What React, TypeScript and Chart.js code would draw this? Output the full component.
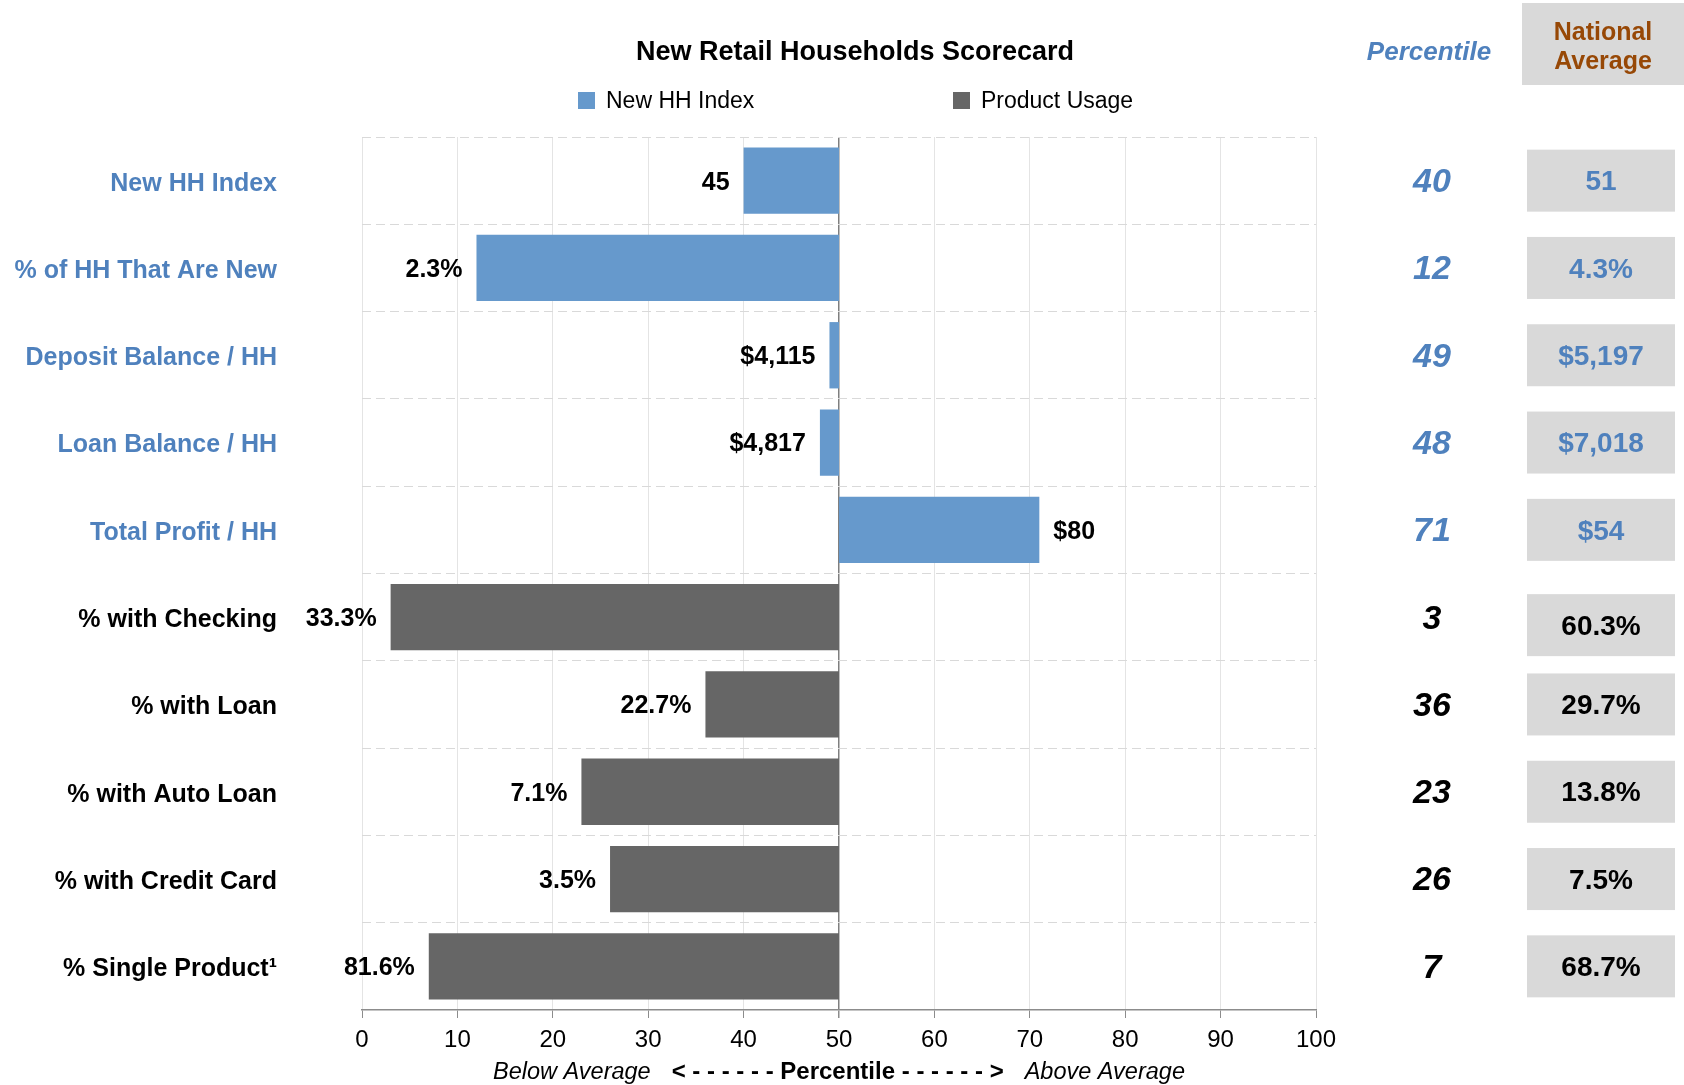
import React, { useEffect, useRef } from 'react';
import { Chart, registerables } from 'chart.js';

Chart.register(...registerables);

// ---------- data ----------
const categories = [
  'New HH Index',
  '% of HH That Are New',
  'Deposit Balance / HH',
  'Loan Balance / HH',
  'Total Profit / HH',
  '% with Checking',
  '% with Loan',
  '% with Auto Loan',
  '% with Credit Card',
  '% Single Product\u00B9',
];
const seriesNames = ['New HH Index', 'Product Usage'];
const hhPercentiles = [40, 12, 49, 48, 71];
const productPercentiles = [3, 36, 23, 26, 7];
const barValueLabels = ['45', '2.3%', '$4,115', '$4,817', '$80', '33.3%', '22.7%', '7.1%', '3.5%', '81.6%'];
const nationalAverages = ['51', '4.3%', '$5,197', '$7,018', '$54', '60.3%', '29.7%', '13.8%', '7.5%', '68.7%'];
const baseline = 50;
const xMin = 0;
const xMax = 100;
const xStep = 10;

// ---------- styles ----------
const FONT = '"Liberation Sans", Arial, Helvetica, sans-serif';
const BLUE_TEXT = '#4F81BD';
const BLUE_BAR = '#6699CC';
const GRAY_BAR = '#666666';
const BROWN = '#974806';
const BOX_GRAY = '#D9D9D9';

const allPercentiles = [...hhPercentiles, ...productPercentiles];

const decorPlugin = {
  id: 'decor',
  afterDatasetsDraw(chart: any) {
    const ctx = chart.ctx;
    const xScale = chart.scales.x;
    ctx.save();
    ctx.font = `bold 25px ${FONT}`;
    ctx.fillStyle = '#000000';
    ctx.textBaseline = 'middle';
    chart.data.datasets.forEach((ds: any, di: number) => {
      const meta = chart.getDatasetMeta(di);
      meta.data.forEach((el: any, i: number) => {
        const v = ds.data[i];
        if (v == null) return;
        const { y } = el.getProps(['y'], true);
        const endPx = xScale.getPixelForValue(v[1]);
        if (v[1] < baseline) {
          ctx.textAlign = 'right';
          ctx.fillText(barValueLabels[i], endPx - 14, y + 2);
        } else {
          ctx.textAlign = 'left';
          ctx.fillText(barValueLabels[i], endPx + 14, y + 2);
        }
      });
    });
    ctx.restore();
  },
  afterDraw(chart: any) {
    const ctx = chart.ctx;
    const yScale = chart.scales.y;
    const area = chart.chartArea;
    ctx.save();

    // title
    ctx.fillStyle = '#000000';
    ctx.font = `bold 27px ${FONT}`;
    ctx.textAlign = 'center';
    ctx.textBaseline = 'middle';
    ctx.fillText('New Retail Households Scorecard', 855, 53);

    // legend
    const legendX = [578, 953];
    ctx.font = `23px ${FONT}`;
    ctx.textAlign = 'left';
    chart.data.datasets.forEach((ds: any, di: number) => {
      ctx.fillStyle = ds.backgroundColor;
      ctx.fillRect(legendX[di], 92, 17, 17);
      ctx.fillStyle = '#000000';
      ctx.fillText(ds.label, legendX[di] + 28, 102);
    });

    // Percentile header
    ctx.fillStyle = BLUE_TEXT;
    ctx.font = `italic bold 26px ${FONT}`;
    ctx.textAlign = 'center';
    ctx.fillText('Percentile', 1429, 53);

    // National Average header
    ctx.fillStyle = BOX_GRAY;
    ctx.fillRect(1522, 3, 162, 82);
    ctx.fillStyle = BROWN;
    ctx.font = `bold 25px ${FONT}`;
    ctx.fillText('National', 1603, 33);
    ctx.fillText('Average', 1603, 62);

    // right columns
    categories.forEach((_c, i) => {
      const y = yScale.getPixelForValue(i);
      const color = i < 5 ? BLUE_TEXT : '#000000';
      ctx.fillStyle = color;
      ctx.font = `italic bold 34px ${FONT}`;
      ctx.textAlign = 'center';
      ctx.fillText(String(allPercentiles[i]), 1432, y + 2);
      const by = i === 5 ? y + 8 : y; // the first product-usage box sits a little lower
      ctx.fillStyle = BOX_GRAY;
      ctx.fillRect(1527, by - 31, 148, 62);
      ctx.fillStyle = color;
      ctx.font = `bold 28px ${FONT}`;
      ctx.fillText(nationalAverages[i], 1601, by + 2);
    });

    // x axis title (mixed styles)
    const segs = [
      { t: 'Below Average', f: `italic 23.5px ${FONT}` },
      { t: '< - - - - - - Percentile - - - - - - >', f: `bold 24px ${FONT}` },
      { t: 'Above Average', f: `italic 23.5px ${FONT}` },
    ];
    const gap = 21;
    const widths = segs.map((s) => {
      ctx.font = s.f;
      return ctx.measureText(s.t).width;
    });
    const total = widths.reduce((a, b) => a + b, 0) + gap * (segs.length - 1);
    let sx = (area.left + area.right) / 2 - total / 2;
    ctx.textAlign = 'left';
    ctx.fillStyle = '#000000';
    segs.forEach((s, i) => {
      ctx.font = s.f;
      ctx.fillText(s.t, sx, 1072);
      sx += widths[i] + gap;
    });

    ctx.restore();
  },
};

export default function App() {
  const canvasRef = useRef<HTMLCanvasElement | null>(null);

  useEffect(() => {
    if (!canvasRef.current) return;
    const hhData = categories.map((_c, i) => (i < hhPercentiles.length ? [baseline, hhPercentiles[i]] : null));
    const productData = categories.map((_c, i) =>
      i >= hhPercentiles.length ? [baseline, productPercentiles[i - hhPercentiles.length]] : null
    );

    const chart = new Chart(canvasRef.current, {
      type: 'bar',
      data: {
        labels: categories,
        datasets: [
          {
            label: seriesNames[0],
            data: hhData as any,
            backgroundColor: BLUE_BAR,
            borderWidth: 0,
            barPercentage: 0.76,
            categoryPercentage: 1,
            grouped: false,
          } as any,
          {
            label: seriesNames[1],
            data: productData as any,
            backgroundColor: GRAY_BAR,
            borderWidth: 0,
            barPercentage: 0.76,
            categoryPercentage: 1,
            grouped: false,
          } as any,
        ],
      },
      options: {
        indexAxis: 'y',
        responsive: false,
        animation: false,
        events: [],
        layout: { padding: { top: 137, right: 368, bottom: 0, left: 0 } },
        plugins: {
          legend: { display: false },
          title: { display: false },
          tooltip: { enabled: false },
        },
        scales: {
          x: {
            type: 'linear',
            min: xMin,
            max: xMax,
            afterFit: (scale: any) => {
              scale.height = 75;
            },
            ticks: {
              stepSize: xStep,
              padding: 8,
              color: '#000000',
              font: { family: FONT, size: 24 },
            },
            grid: {
              color: (c: any) => (c.tick && c.tick.value === baseline ? '#7F7F7F' : '#E4E4E4'),
              lineWidth: (c: any) => (c.tick && c.tick.value === baseline ? 1.5 : 1),
              tickColor: '#8C8C8C',
              tickLength: 8,
            },
            border: { display: true, color: '#8C8C8C', width: 1.5 },
          },
          y: {
            type: 'category',
            afterFit: (scale: any) => {
              scale.width = 362;
              scale.paddingTop = 0;
              scale.paddingBottom = 0;
            },
            ticks: {
              padding: 85,
              labelOffset: 3,
              color: (c: any) => (c.index < 5 ? BLUE_TEXT : '#000000'),
              font: { family: FONT, size: 25, weight: 'bold' },
            },
            grid: {
              color: '#D9D9D9',
              drawTicks: false,
              offset: true,
              borderDash: [9, 5],
            } as any,
            border: { display: false, dash: [9, 5] },
          },
        },
      },
      plugins: [decorPlugin],
    } as any);

    return () => chart.destroy();
  }, []);

  return (
    <div style={{ position: 'absolute', left: 0, top: 0, width: 1684, height: 1085, overflow: 'hidden', background: '#ffffff' }}>
      <canvas ref={canvasRef} width={1684} height={1085} style={{ display: 'block' }} />
    </div>
  );
}
